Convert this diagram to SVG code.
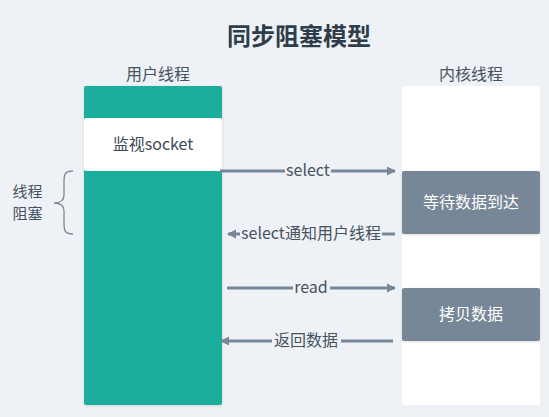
<svg xmlns="http://www.w3.org/2000/svg" width="549" height="417" viewBox="0 0 549 417">
<defs>
<style>
text{font-family:"Noto Sans CJK SC","Noto Sans",sans-serif;}
.t{font-size:16px;fill:#46525e;text-anchor:middle;}
.title{font-size:24px;font-weight:bold;fill:#2f3d4a;text-anchor:middle;}
.w{font-size:16px;fill:#ffffff;text-anchor:middle;}
.c{stroke:#778797;stroke-width:3;fill:none;}
.lbl{fill:#eef2f6;}
</style>
<marker id="ah" markerWidth="9" markerHeight="10" refX="8" refY="5" orient="auto" markerUnits="userSpaceOnUse">
<path d="M0,0.5 L9,5 L0,9.5 Z" fill="#778797"/>
</marker>
<filter id="sh" x="-10%" y="-10%" width="120%" height="120%">
<feDropShadow dx="0" dy="1" stdDeviation="1.5" flood-color="#000" flood-opacity="0.12"/>
</filter>
</defs>
<rect width="549" height="417" fill="#eef2f6"/>
<text class="title" x="299" y="45">同步阻塞模型</text>
<g id="user-thread">
<text class="t" x="158" y="80">用户线程</text>
<rect x="84" y="86" width="138" height="319" rx="2" fill="#1aae9c" filter="url(#sh)"/>
</g>
<g id="monitor-socket">
<rect x="84" y="118" width="138" height="53" rx="2" fill="#ffffff"/>
<text class="t" x="153" y="150" style="fill:#3f4a55">监视socket</text>
</g>
<g id="kernel-thread">
<text class="t" x="471" y="80">内核线程</text>
<rect x="402" y="86" width="138" height="319" rx="2" fill="#ffffff"/>
</g>
<g id="wait-data">
<rect x="402" y="171" width="138" height="63" rx="2" fill="#778797" filter="url(#sh)"/>
<text class="w" x="471" y="208">等待数据到达</text>
</g>
<g id="copy-data">
<rect x="402" y="288" width="138" height="53" rx="2" fill="#778797" filter="url(#sh)"/>
<text class="w" x="471" y="320">拷贝数据</text>
</g>
<g id="block-label">
<path d="M73,171 C65,171 64,174 64,182 L64,195 C64,200 61,203 54,203 C61,203 64,206 64,211 L64,223 C64,231 65,234 73,234" fill="none" stroke="#7d8a96" stroke-width="1.3"/>
<text class="t" x="27.5" y="197" style="font-size:15px">线程</text>
<text class="t" x="27.5" y="219" style="font-size:15px">阻塞</text>
</g>
<g id="connectors">
<line class="c" x1="220" y1="171" x2="395" y2="171" marker-end="url(#ah)"/>
<rect class="lbl" x="285" y="161" width="46" height="20"/>
<text class="t" x="308" y="176">select</text>
<line class="c" x1="395" y1="234" x2="228" y2="234" marker-end="url(#ah)"/>
<rect class="lbl" x="240" y="224" width="142" height="20"/>
<text class="t" x="311" y="239">select通知用户线程</text>
<line class="c" x1="227" y1="288" x2="395" y2="288" marker-end="url(#ah)"/>
<rect class="lbl" x="293" y="278" width="37" height="20"/>
<text class="t" x="311" y="293">read</text>
<line class="c" x1="393" y1="341" x2="221" y2="341" marker-end="url(#ah)"/>
<rect class="lbl" x="272" y="331" width="69" height="20"/>
<text class="t" x="306" y="346">返回数据</text>
</g>
</svg>
